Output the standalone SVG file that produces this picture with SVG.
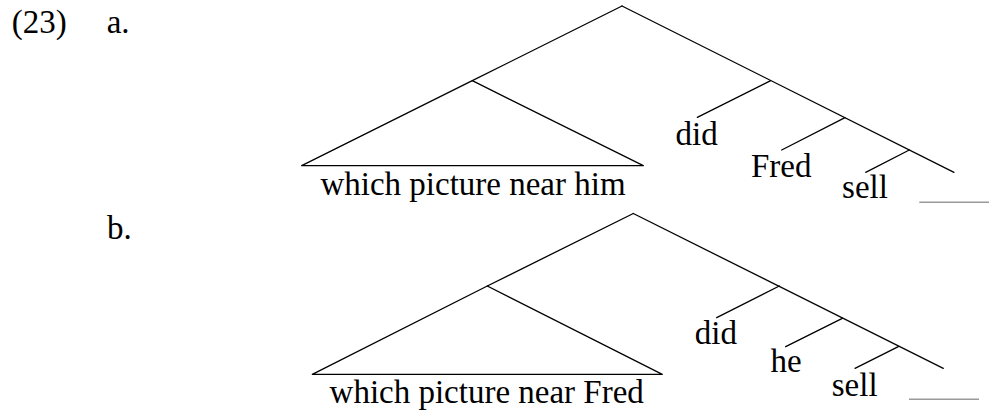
<svg xmlns="http://www.w3.org/2000/svg" width="993" height="416" viewBox="0 0 993 416">
<style>
  .e{stroke:#000;stroke-width:1.3;fill:none;stroke-linecap:round;stroke-linejoin:round}
  .gap{stroke:#999;stroke-width:1.5}
  .t{font-family:'Liberation Serif',serif;font-size:33px;fill:#000}
  .c{text-anchor:middle}
</style>
<rect width="993" height="416" fill="#fff"/>
<g id="labels">
  <text class="t" x="11.7" y="33.3">(23)</text>
  <text class="t" x="106.7" y="33.3">a.</text>
  <text class="t" x="107" y="239.3">b.</text>
</g>
<g id="connectors">
  <g id="tree-a-edges">
    <line class="e" x1="622" y1="6" x2="472.3" y2="80.7"/>
    <line class="e" x1="622" y1="6" x2="954" y2="172.3"/>
    <polygon class="e" points="472.3,80.7 301.7,165.7 643.3,165.7"/>
    <line class="e" x1="770.7" y1="80.7" x2="697.3" y2="117.3"/>
    <line class="e" x1="845" y1="117.7" x2="781.7" y2="150"/>
    <line class="e" x1="909.3" y1="150" x2="865.7" y2="172.3"/>
  </g>
  <g id="tree-b-edges">
    <line class="e" x1="633.3" y1="213.5" x2="487.3" y2="286"/>
    <line class="e" x1="633.3" y1="213.5" x2="943.3" y2="368.3"/>
    <polygon class="e" points="487.3,286 312.3,374.3 662.3,374.3"/>
    <line class="e" x1="779.3" y1="286" x2="716.7" y2="317.7"/>
    <line class="e" x1="842.3" y1="318.3" x2="785.7" y2="346.7"/>
    <line class="e" x1="898.3" y1="346.7" x2="855" y2="368.3"/>
  </g>
</g>
<g id="node-a-dp"><text class="t c" x="473" y="195">which picture near him</text></g>
<g id="node-a-did"><text class="t c" x="696.7" y="145">did</text></g>
<g id="node-a-fred"><text class="t c" x="781.2" y="176.7">Fred</text></g>
<g id="node-a-sell"><text class="t c" x="865" y="198.3">sell</text></g>
<g id="node-a-gap"><line class="gap" x1="919.3" y1="202.3" x2="989" y2="202.3"/></g>
<g id="node-b-dp"><text class="t c" x="486.7" y="403.3">which picture near Fred</text></g>
<g id="node-b-did"><text class="t c" x="715.9" y="344.3">did</text></g>
<g id="node-b-he"><text class="t c" x="786" y="372.3">he</text></g>
<g id="node-b-sell"><text class="t c" x="854.7" y="395.7">sell</text></g>
<g id="node-b-gap"><line class="gap" x1="909" y1="399.3" x2="979" y2="399.3"/></g>
</svg>
